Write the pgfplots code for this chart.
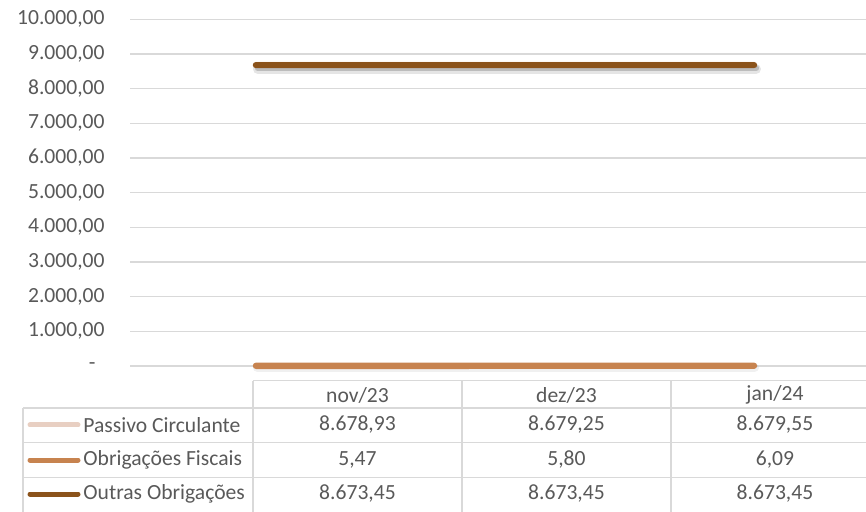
\documentclass[border=0pt]{standalone}
\usepackage{fontspec}
\setmainfont{Carlito}
\usepackage{pgfplots}
\pgfplotsset{compat=1.18}
\definecolor{txt}{HTML}{595959}
\definecolor{grd}{HTML}{D9D9D9}
\definecolor{cPC}{HTML}{E8CFC2}
\definecolor{cOF}{HTML}{C7834F}
\definecolor{cOO}{HTML}{8B531B}
\begin{document}
\begin{tikzpicture}
\fontsize{10.8}{13}\selectfont
\begin{scope}[x=0.5pt,y=-0.5pt]
\draw[grd, line width=0.6pt] (253,380.7) -- (866,380.7);
\foreach \yy in {408,442.7,477.3} {\draw[grd, line width=0.6pt] (23,\yy) -- (866,\yy);}
\draw[grd, line width=0.6pt] (23,408) -- (23,512);
\foreach \xx in {253,462,671} {\draw[grd, line width=0.6pt] (\xx,380.7) -- (\xx,512);}
\foreach \xx/\t in {357.5/nov\slash 23,566.5/dez\slash 23,775/jan\slash 24} {\node[txt, inner sep=0pt] at (\xx,395) {\t};}
\draw[cPC, line width=2.5pt, line cap=round] (30,425) -- (78,425);
\draw[cOF, line width=2.5pt, line cap=round] (30,460) -- (78,460);
\draw[cOO, line width=2.5pt, line cap=round] (30,494) -- (78,494);
\node[txt, anchor=west, inner sep=0pt] at (83,425) {Passivo Circulante};
\node[txt, anchor=west, inner sep=0pt] at (83,460) {Obrigações Fiscais};
\node[txt, anchor=west, inner sep=0pt] at (83,494) {Outras Obrigações};
\node[txt, inner sep=0pt] at (357.5,425) {8.678,93};
\node[txt, inner sep=0pt] at (566.5,425) {8.679,25};
\node[txt, inner sep=0pt] at (775,425) {8.679,55};
\node[txt, inner sep=0pt] at (357.5,460) {5,47};
\node[txt, inner sep=0pt] at (566.5,460) {5,80};
\node[txt, inner sep=0pt] at (775,460) {6,09};
\node[txt, inner sep=0pt] at (357.5,494) {8.673,45};
\node[txt, inner sep=0pt] at (566.5,494) {8.673,45};
\node[txt, inner sep=0pt] at (775,494) {8.673,45};
\end{scope}
\begin{axis}[at={(65pt,-183pt)}, anchor=south west, scale only axis,
  width=368pt, height=173.35pt,
  xmin=-0.506, xmax=2.45, ymin=0, ymax=10000,
  ytick={0,1000,...,10000}, scaled y ticks=false,
  yticklabels={{-\rule{4.5pt}{0pt}},{1.000,00},{2.000,00},{3.000,00},{4.000,00},{5.000,00},{6.000,00},{7.000,00},{8.000,00},{9.000,00},{10.000,00}},
  xtick=\empty,
  ymajorgrids, grid style={grd, line width=0.6pt},
  axis line style={draw=none}, major tick length=0pt,
  yticklabel style={txt, font=\fontsize{10.8}{13}\selectfont, inner sep=0pt, anchor=east, xshift=-12.5pt},
  clip=false]
\addplot[cPC, line width=3.2pt, line cap=round] coordinates {(0,8678.93)(1,8679.25)(2,8679.55)};
\addplot[black, opacity=0.10, line width=5pt, line cap=round, xshift=1pt, yshift=-2pt] coordinates {(0,8673.45)(1,8673.45)(2,8673.45)};
\addplot[black, opacity=0.18, line width=3.2pt, line cap=round, xshift=1pt, yshift=-1.5pt] coordinates {(0,8673.45)(1,8673.45)(2,8673.45)};
\addplot[black, opacity=0.06, line width=4pt, line cap=round, xshift=0.5pt, yshift=-1pt] coordinates {(0,5.47)(1,5.80)(2,6.09)};
\addplot[cOF, line width=3.2pt, line cap=round] coordinates {(0,5.47)(1,5.80)(2,6.09)};
\addplot[cOO, line width=3.2pt, line cap=round] coordinates {(0,8673.45)(1,8673.45)(2,8673.45)};
\end{axis}
\pgfresetboundingbox
\path[use as bounding box] (0,0) rectangle (433pt,-256pt);
\end{tikzpicture}
\end{document}
